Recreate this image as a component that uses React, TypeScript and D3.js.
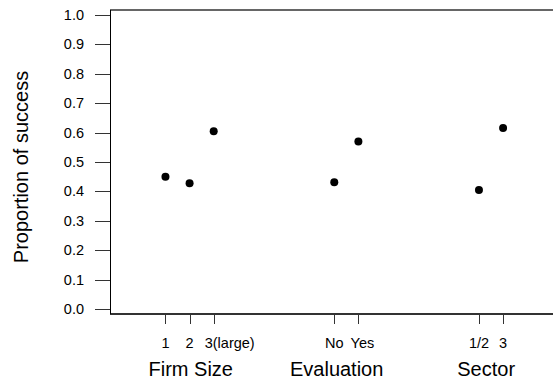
import React, { useEffect, useRef } from 'react';
import * as d3 from 'd3';

// x positions on the shared axis (groups separated by gaps)
const positions = [1, 2, 3, 8, 9, 14, 15];
const tickLabels = ['1', '2', '3(large)', 'No', 'Yes', '1/2', '3'];
const proportions = [0.45, 0.428, 0.604, 0.431, 0.57, 0.405, 0.615];
const groupLabels = ['Firm Size', 'Evaluation', 'Sector'];
const groupCenters = [2.05, 8.1, 14.3];
const yTicks = [0, 0.1, 0.2, 0.3, 0.4, 0.5, 0.6, 0.7, 0.8, 0.9, 1.0];

const App: React.FC = () => {
    const chartRef = useRef<SVGSVGElement>(null);

    useEffect(() => {
        const svg = d3.select(chartRef.current);
        svg.selectAll("*").remove();

        const left = 110, right = 553, top = 10, bottom = 314;
        const x = d3.scaleLinear().domain([-1.3, 17.07]).range([left, right]);
        const y = d3.scaleLinear().domain([0, 1]).range([309.3, 14.7]);

        const font = "'Liberation Sans', Arial, sans-serif";

        // frame
        svg.append("line").attr("x1", left).attr("x2", right).attr("y1", top).attr("y2", top)
            .attr("stroke", "#666").attr("stroke-width", 2);
        svg.append("line").attr("x1", left).attr("x2", right).attr("y1", bottom).attr("y2", bottom)
            .attr("stroke", "#333").attr("stroke-width", 2);
        svg.append("line").attr("x1", left + 0.5).attr("x2", left + 0.5).attr("y1", top).attr("y2", bottom)
            .attr("stroke", "#000").attr("stroke-width", 1);

        // y axis
        const yAxis = svg.append("g");
        yAxis.selectAll("line").data(yTicks).enter().append("line")
            .attr("x1", 95).attr("x2", left)
            .attr("y1", d => Math.round(y(d)) + 0.5).attr("y2", d => Math.round(y(d)) + 0.5)
            .attr("stroke", "#333").attr("stroke-width", 1);
        yAxis.selectAll("text").data(yTicks).enter().append("text")
            .attr("x", 84).attr("y", d => y(d) + 5)
            .attr("text-anchor", "end")
            .attr("font-family", font).attr("font-size", 14.5)
            .text(d => d3.format(".1f")(d));

        svg.append("text")
            .attr("transform", "translate(28,167) rotate(-90)")
            .attr("text-anchor", "middle")
            .attr("font-family", font).attr("font-size", 20)
            .text("Proportion of success");

        // x axis
        const xAxis = svg.append("g");
        xAxis.selectAll("line").data(positions).enter().append("line")
            .attr("x1", d => Math.round(x(d)) + 0.5).attr("x2", d => Math.round(x(d)) + 0.5)
            .attr("y1", bottom).attr("y2", 324)
            .attr("stroke", "#333").attr("stroke-width", 1);
        xAxis.selectAll("text").data(positions).enter().append("text")
            .attr("x", (d, i) => x(d) + (i === 2 ? 16 : i === 4 ? 4 : 0))
            .attr("y", 348).attr("text-anchor", "middle")
            .attr("font-family", font).attr("font-size", 14.5)
            .text((d, i) => tickLabels[i]);

        svg.append("g").selectAll("text").data(groupLabels).enter().append("text")
            .attr("x", (d, i) => x(groupCenters[i]))
            .attr("y", 376).attr("text-anchor", "middle")
            .attr("font-family", font).attr("font-size", 20)
            .text(d => d);

        // points
        svg.append("g").selectAll("circle").data(proportions).enter().append("circle")
            .attr("cx", (d, i) => x(positions[i]))
            .attr("cy", d => y(d))
            .attr("r", 4)
            .attr("fill", "#000");
    }, []);

    return <svg ref={chartRef} width="553" height="380"
        style={{ position: 'absolute', left: 0, top: 0, background: '#fff' }}></svg>;
};

export default App;
